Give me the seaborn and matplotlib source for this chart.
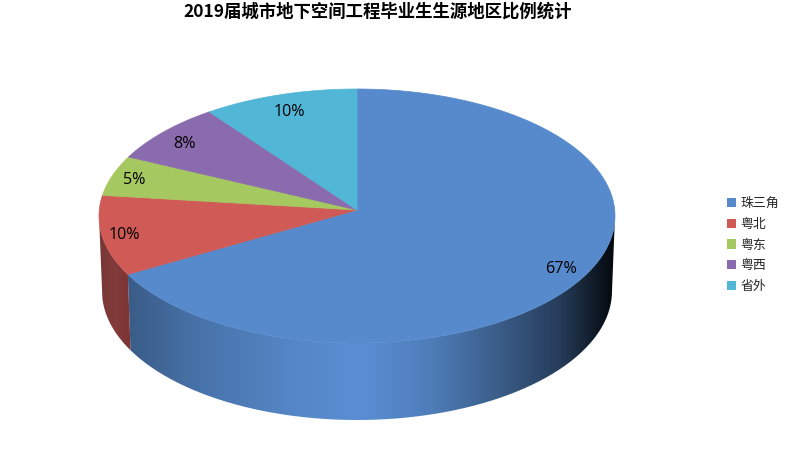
import matplotlib
import matplotlib.pyplot as plt
import numpy as np
import seaborn as sns
from matplotlib.patches import Patch, PathPatch
from matplotlib.path import Path

matplotlib.use('agg')

categories = ["珠三角", "粤北", "粤东", "粤西", "省外"]
shares = [67.4, 10.2, 5.1, 7.6, 9.7]
share_labels = ["67%", "10%", "5%", "8%", "10%"]
title = "2019届城市地下空间工程毕业生生源地区比例统计"

sns.set_theme(style="white")
plt.rcParams['font.family'] = ['Noto Sans CJK SC', 'DejaVu Sans']
palette = sns.color_palette(["#568ACC", "#CF5A56", "#A6C860", "#8A6BAE", "#52B6D6"])

# the chart is laid out in image pixels
fig = plt.figure(figsize=(7.86, 4.53), dpi=100)
ax = fig.add_axes([0, 0, 1, 1])
ax.set_xlim(0, 786)
ax.set_ylim(453, 0)
ax.axis('off')

CX, CY, RX, RY = 357, 216, 258, 127
APEX_Y = 210
BOT_CY, BOT_RX, BOT_RY = 291, 255, 129


def arc(t0, t1, cx, cy, rx, ry):
    t = np.radians(np.linspace(t0, t1, 200))
    return np.column_stack([cx + rx * np.sin(t), cy - ry * np.cos(t)])


def wall(t0, t1, stops_x, stops_rgb):
    top = arc(t0, t1, CX, CY, RX, RY)
    bottom = arc(t1, t0, CX, BOT_CY, BOT_RX, BOT_RY)
    clip = PathPatch(Path(np.vstack([top, bottom, top[:1]])), transform=ax.transData,
                     facecolor='none', edgecolor='none')
    ax.add_patch(clip)
    xs = np.arange(90, 620)
    rgb = np.array(stops_rgb) / 255
    grad = np.stack([np.interp(xs, stops_x, rgb[:, i]) for i in range(3)], axis=-1)[None, :, :]
    im = ax.imshow(grad, extent=(90, 620, 430, 200), aspect='auto', zorder=1)
    im.set_clip_path(clip)


edges = np.cumsum([0] + shares) / sum(shares) * 360

# side of the disc, only the front half shows
wall(90, edges[1],
     [127, 200, 300, 360, 430, 500, 560, 590, 612],
     [(58, 92, 135), (72, 115, 170), (86, 136, 200), (90, 142, 212), (78, 125, 185),
      (58, 92, 135), (38, 60, 90), (18, 30, 45), (5, 10, 15)])
wall(edges[1], 270, [100, 115, 127], [(120, 55, 55), (130, 60, 58), (124, 52, 52)])
ax.set_xlim(0, 786)
ax.set_ylim(453, 0)

for i, color in enumerate(palette):
    pts = arc(edges[i], edges[i + 1], CX, CY, RX, RY)
    pts = np.vstack([[CX, APEX_Y], pts])
    ax.fill(pts[:, 0], pts[:, 1], color=color, lw=0.5, zorder=2)

label_xy = [(561, 269), (124, 235), (134, 180), (184, 144), (289, 112)]
for (x, y), text in zip(label_xy, share_labels):
    ax.text(x, y, text, ha='center', va='center', fontsize=11.6,
            family=['Open Sans', 'DejaVu Sans'], color='black', zorder=3)

ax.text(377.5, 12, title, ha='center', va='center', fontsize=12.5, fontweight='bold', color='black')

handles = [Patch(facecolor=c, edgecolor='none', label=n) for c, n in zip(palette, categories)]
ax.legend(handles=handles, loc='center left', bbox_to_anchor=(727 / 786, 1 - 245 / 453),
          frameon=False, fontsize=9.3, handlelength=0.72, handleheight=0.72, handletextpad=0.3,
          labelspacing=0.6, borderpad=0, borderaxespad=0)

fig.savefig('out.png', dpi=100, facecolor='white')
